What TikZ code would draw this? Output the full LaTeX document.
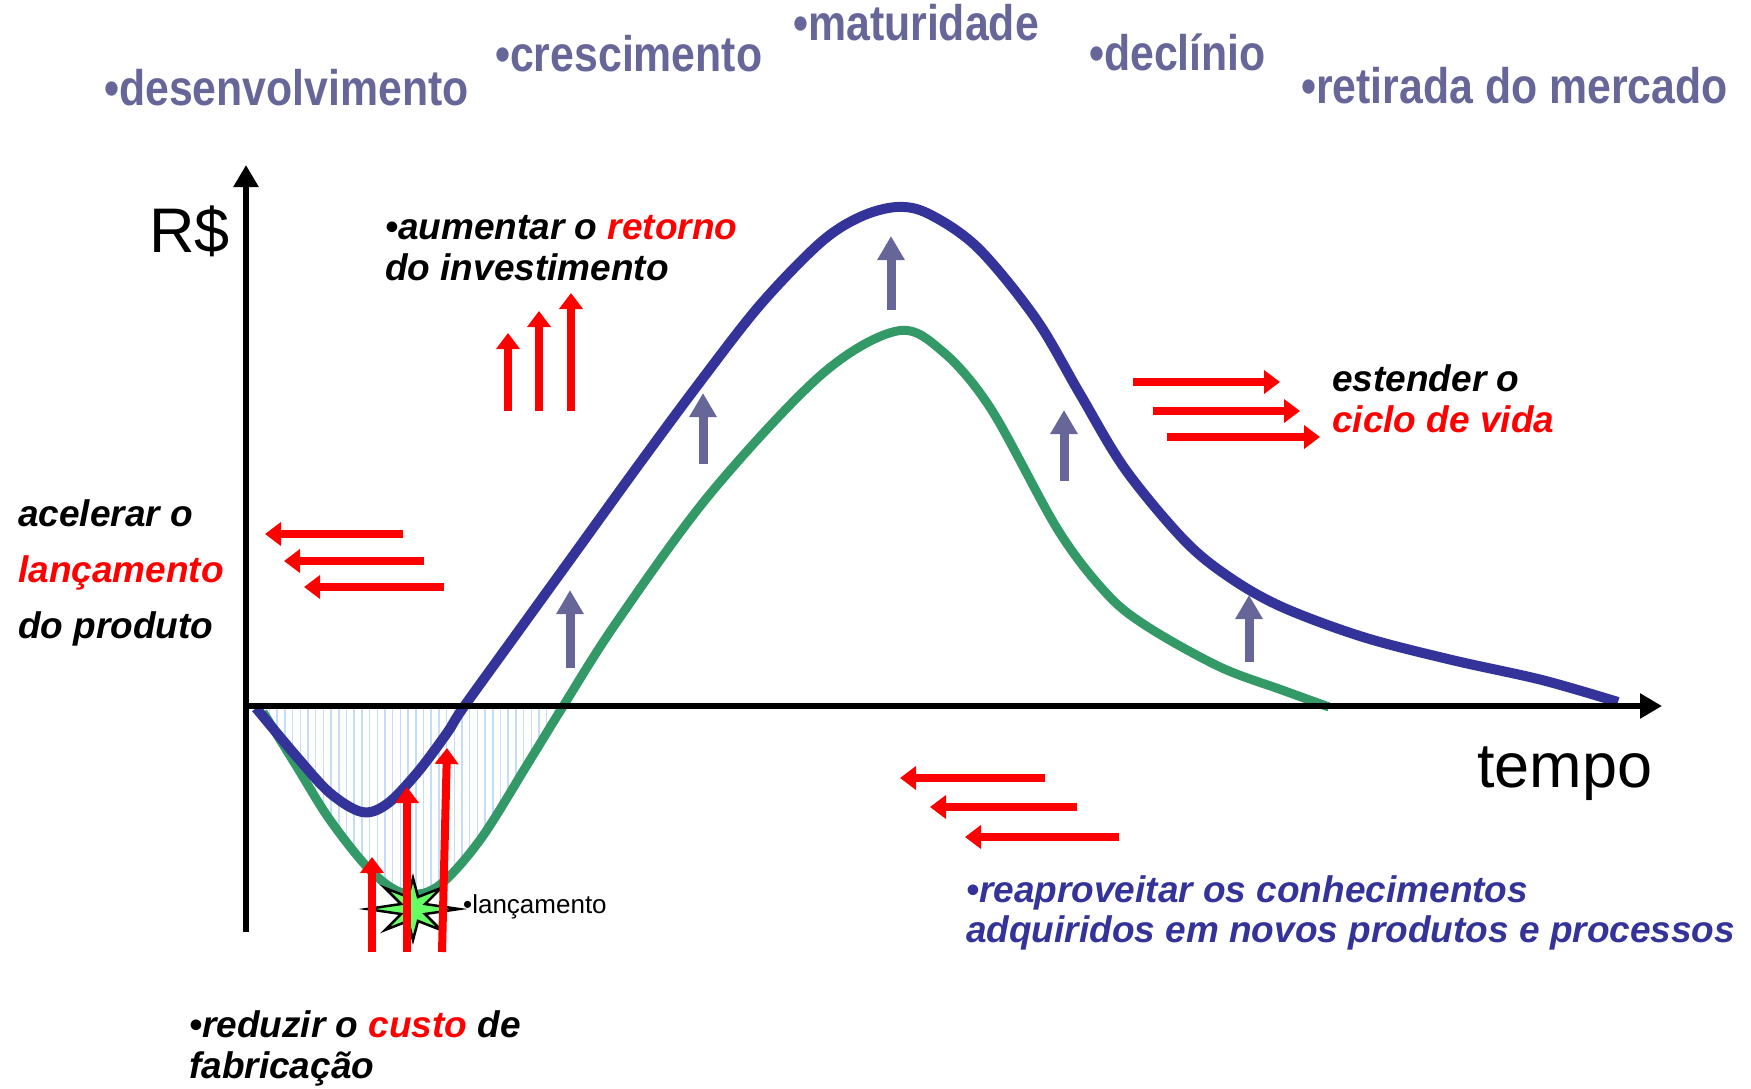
\documentclass[tikz,border=0pt]{standalone}
\usepackage{fontspec}
\setmainfont{Liberation Sans}
\newfontfamily\stagefont[FakeStretch=0.856]{Liberation Sans}
\usetikzlibrary{arrows.meta,patterns.meta}

\definecolor{stageblue}{HTML}{666699}
\definecolor{curveblue}{HTML}{333399}
\definecolor{curvegreen}{HTML}{339966}
\definecolor{hatchblue}{HTML}{C6DDF6}
\definecolor{burstgreen}{HTML}{66FF66}

\begin{document}
\begin{tikzpicture}[x=1pt, y=-1pt,
  stage/.style     = {anchor=base west, inner sep=0pt, text=stageblue,
                      font=\stagefont\bfseries\fontsize{50}{50}\selectfont},
  note/.style      = {anchor=base west, inner sep=0pt, align=left,
                      font=\bfseries\itshape\fontsize{37}{41}\selectfont},
  axislabel/.style = {anchor=base west, inner sep=0pt, font=\fontsize{63}{63}\selectfont},
  axis/.style      = {line width=6pt, -{Triangle[width=24pt,length=22pt]}},
  curve/.style     = {line width=10pt, smooth, tension=0.55},
  push/.style      = {red, line width=8pt, -{Triangle[width=23pt,length=16pt]}},
  lift/.style      = {stageblue, line width=9pt, -{Triangle[width=26pt,length=24pt]}}]

  \useasboundingbox (0,0) rectangle (1751,1088);

  % loss area under the axis
  \fill[pattern={Lines[angle=90,distance=7.7pt,line width=1.5pt]}, pattern color=hatchblue]
    plot[smooth, tension=0.55] coordinates {(256,706) (297,767) (330,820) (370,870) (403,893)
                                            (437,887) (480,840) (530,760) (562,706)} -- cycle;

  % curves
  \draw[curve, curvegreen, line width=9pt] plot coordinates {(263,712) (297,767) (330,820) (370,870)
    (403,893) (437,887) (480,840) (530,760) (562,708) (616,623) (710,494) (821,375) (897,331)
    (942,351) (991,409) (1058,530) (1107,594) (1148,627) (1220,667) (1282,690) (1329,707)};
  \draw[curve, curveblue] plot coordinates {(256,708) (297,757) (330,793) (362,812) (387,804)
    (417,773) (447,733) (463,708) (520,629) (580,546) (640,463) (700,382) (760,305) (820,243)
    (860,217) (897,207) (929,214) (978,248) (1036,319) (1080,394) (1125,469) (1184,540)
    (1229,577) (1282,607) (1363,637) (1452,660) (1542,680) (1618,702)};

  % axes
  \coordinate (origin) at (243,706);
  \coordinate (ybot)   at (246,932);
  \coordinate (ytop)   at (246,165);
  \coordinate (xend)   at (1662,706);
  \draw[axis] (ybot) -- (ytop);
  \draw[axis] (origin) -- (xend);

  % gain arrows
  \draw[lift] (891,310)  -- (891,236);
  \draw[lift] (703,464)  -- (703,393);
  \draw[lift] (570,668)  -- (570,590);
  \draw[lift] (1064,481) -- (1064,410);
  \draw[lift] (1249,662) -- (1249,595);

  % launch burst
  \filldraw[fill=burstgreen, draw=black, line width=2.5pt, line join=miter]
    (459,909) -- (425,904) -- (441,888) -- (418,897) -- (413,878) -- (408,897) -- (385,888)
    -- (401,904) -- (367,909) -- (401,914) -- (385,930) -- (408,921) -- (413,940) -- (418,921)
    -- (441,930) -- (425,914) -- cycle;

  % red arrows
  \draw[push] (508,411) -- (508,333);
  \draw[push] (539,411) -- (539,311);
  \draw[push] (571,411) -- (571,293);

  \draw[push] (372,952) -- (372,857);
  \draw[push] (407,952) -- (407,787);
  \draw[push] (442,952) -- (447,748);

  \draw[push] (403,534) -- (265,534);
  \draw[push] (424,561) -- (284,561);
  \draw[push] (444,587) -- (304,587);

  \draw[push] (1133,382) -- (1280,382);
  \draw[push] (1153,411) -- (1300,411);
  \draw[push] (1167,437) -- (1320,437);

  \draw[push] (1045,778) -- (900,778);
  \draw[push] (1077,807) -- (930,807);
  \draw[push] (1119,837) -- (965,837);

  % stages
  \node[stage] (desenv) at (104,105)  {•desenvolvimento};
  \node[stage] (cresc)  at (495,71)   {•crescimento};
  \node[stage] (matur)  at (793,40)   {•maturidade};
  \node[stage] (declin) at (1089,70)  {•declínio};
  \node[stage] (retir)  at (1301,103) {•retirada do mercado};

  % labels
  \node[axislabel] (rs)    at (149,252)  {R\$};
  \node[axislabel] (tempo) at (1477,787) {tempo};
  \node[anchor=base west, inner sep=0pt, font=\fontsize{26}{26}\selectfont] (lanc) at (463,913) {•lançamento};

  \node[note] (aumentar) at (385,280)  {•aumentar o {\color{red}retorno}\\do investimento};
  \node[note] (estender) at (1332,432) {estender o\\{\color{red}ciclo de vida}};
  \node[note, font=\bfseries\itshape\fontsize{37}{56}\selectfont] (acelerar) at (18,638)
    {acelerar o\\{\color{red}lançamento}\\do produto};
  \node[note, text=curveblue, font=\bfseries\itshape\fontsize{37}{40}\selectfont] (reaprov) at (966,942)
    {•reaproveitar os conhecimentos\\adquiridos em novos produtos e processos};
  \node[note] (reduzir) at (189,1078)  {•reduzir o {\color{red}custo} de\\fabricação};

\end{tikzpicture}
\end{document}
